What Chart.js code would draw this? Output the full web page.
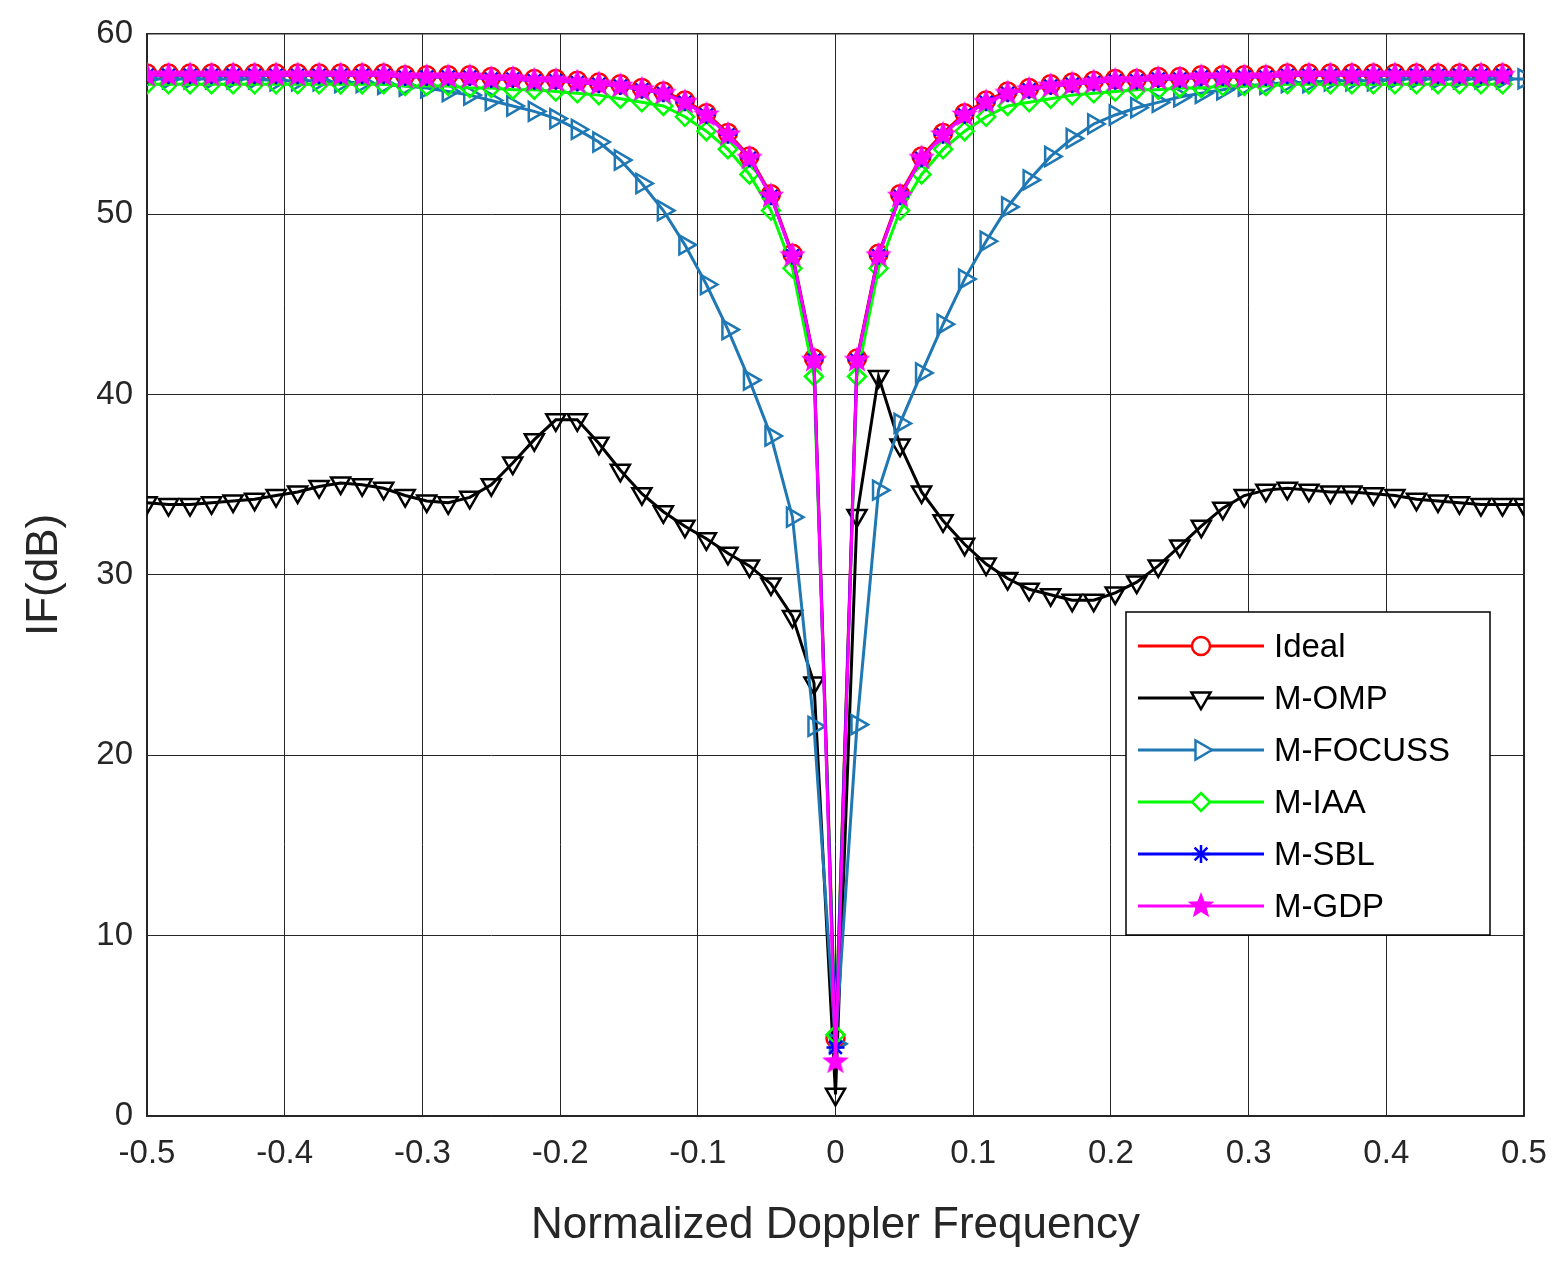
<!DOCTYPE html>
<html><head><meta charset="utf-8">
<script src="https://cdn.jsdelivr.net/npm/chart.js@4/dist/chart.umd.min.js"></script>
<style>html,body{margin:0;padding:0;background:#fff}#w{width:1566px;height:1264px}</style>
</head><body><div id="w"><canvas id="c"></canvas></div>
<script>
const xs = [];
for (let i = 0; i <= 64; i++) xs.push(-0.5 + i / 64);
const ideal = [57.8,57.8,57.8,57.8,57.8,57.8,57.8,57.8,57.8,57.8,57.8,57.8,57.7,57.7,57.7,57.7,57.6,57.6,57.5,57.5,57.4,57.3,57.2,57.0,56.8,56.3,55.6,54.5,53.2,51.1,47.8,42.0,4.3,
 42.0,47.8,51.1,53.2,54.5,55.6,56.3,56.8,57.0,57.2,57.3,57.4,57.5,57.5,57.6,57.6,57.7,57.7,57.7,57.7,57.8,57.8,57.8,57.8,57.8,57.8,57.8,57.8,57.8,57.8,57.8];
const omp = [34.0,33.9,33.9,34.0,34.1,34.2,34.4,34.6,34.9,35.1,35.0,34.8,34.4,34.1,34.0,34.3,35.0,36.2,37.5,38.6,38.6,37.3,35.8,34.5,33.5,32.7,32.0,31.2,30.5,29.5,27.7,24.0,1.2,
 33.3,41.0,37.2,34.6,33.0,31.7,30.6,29.8,29.2,28.9,28.6,28.6,29.0,29.6,30.5,31.6,32.7,33.7,34.4,34.7,34.8,34.7,34.6,34.6,34.5,34.4,34.2,34.1,34.0,33.9,33.9,33.9];
const focuss = [57.5,57.5,57.5,57.5,57.5,57.5,57.4,57.4,57.4,57.3,57.3,57.2,57.1,57.0,56.8,56.6,56.3,56.0,55.7,55.3,54.7,54.0,53.0,51.7,50.2,48.3,46.1,43.6,40.8,37.7,33.2,21.6,4.0,
 21.7,34.7,38.4,41.2,43.9,46.4,48.5,50.4,51.9,53.2,54.2,55.0,55.5,55.9,56.2,56.5,56.7,56.9,57.1,57.2,57.3,57.3,57.4,57.4,57.4,57.5,57.5,57.5,57.5,57.5,57.5,57.5];
const iaa = [57.2,57.2,57.2,57.2,57.2,57.2,57.2,57.2,57.2,57.2,57.2,57.2,57.1,57.1,57.1,57.0,57.0,56.9,56.9,56.8,56.7,56.6,56.4,56.2,56.0,55.4,54.6,53.6,52.2,50.2,47.0,41.0,4.5,
 41.0,47.0,50.2,52.2,53.6,54.6,55.4,56.0,56.2,56.4,56.6,56.7,56.8,56.9,56.9,57.0,57.0,57.1,57.1,57.1,57.2,57.2,57.2,57.2,57.2,57.2,57.2,57.2,57.2,57.2,57.2];
const sbl = [57.7,57.7,57.7,57.7,57.7,57.7,57.7,57.7,57.7,57.7,57.7,57.7,57.6,57.6,57.6,57.6,57.5,57.5,57.4,57.4,57.3,57.2,57.1,56.9,56.7,56.2,55.5,54.4,53.1,51.0,47.7,41.9,3.8,
 41.9,47.7,51.0,53.1,54.4,55.5,56.2,56.7,56.9,57.1,57.2,57.3,57.4,57.4,57.5,57.5,57.6,57.6,57.6,57.6,57.7,57.7,57.7,57.7,57.7,57.7,57.7,57.7,57.7,57.7,57.7];
const gdp = [57.7,57.7,57.7,57.7,57.7,57.7,57.7,57.7,57.7,57.7,57.7,57.7,57.6,57.6,57.6,57.6,57.5,57.5,57.4,57.4,57.3,57.2,57.1,56.9,56.7,56.2,55.5,54.4,53.1,51.0,47.7,41.9,3.0,
 41.9,47.7,51.0,53.1,54.4,55.5,56.2,56.7,56.9,57.1,57.2,57.3,57.4,57.4,57.5,57.5,57.6,57.6,57.6,57.6,57.7,57.7,57.7,57.7,57.7,57.7,57.7,57.7,57.7,57.7,57.7];
const names = ['Ideal','M-OMP','M-FOCUSS','M-IAA','M-SBL','M-GDP'];
const colors = ['#ff0000','#000000','#1f77b4','#00ff00','#0000ff','#ff00ff'];
const xTicks = ['-0.5','-0.4','-0.3','-0.2','-0.1','0','0.1','0.2','0.3','0.4','0.5'];

function starImg(r){
  const c=document.createElement('canvas'); c.width=c.height=2*r+4;
  const g=c.getContext('2d'); g.beginPath();
  for(let k=0;k<10;k++){const a=-Math.PI/2+k*Math.PI/5; const rr=k%2?r*0.42:r;
    g.lineTo(r+2+rr*Math.cos(a), r+2+rr*Math.sin(a));}
  g.closePath(); g.fillStyle='#ff00ff'; g.fill(); return c;
}
const star = starImg(14);
const styles = [
  {pointStyle:'circle', radius:9, rotation:0},
  {pointStyle:'triangle', radius:11, rotation:180},
  {pointStyle:'triangle', radius:11, rotation:90},
  {pointStyle:'rectRot', radius:9, rotation:0},
  {pointStyle:'star', radius:9, rotation:0},
  {pointStyle:star, radius:14, rotation:0}
];
const series = [ideal, omp, focuss, iaa, sbl, gdp];
const datasets = series.map((s,i)=>({
  label:names[i], data:s.map((v,j)=>({x:xs[j], y:v})),
  borderColor:colors[i], backgroundColor:'rgba(0,0,0,0)', borderWidth:3,
  pointStyle:styles[i].pointStyle, pointRadius:styles[i].radius, pointRotation:styles[i].rotation,
  pointBorderWidth:2.5, pointBorderColor:colors[i], pointBackgroundColor:'rgba(0,0,0,0)',
  order: 5-i, tension:0
}));

const legendPlugin = {
  id:'lg',
  afterDraw(ch){
    const g=ch.ctx; const x0=1126,y0=612,w=364,h=323;
    g.save(); g.fillStyle='#fff'; g.fillRect(x0,y0,w,h);
    g.strokeStyle='#000'; g.lineWidth=1.5; g.strokeRect(x0,y0,w,h);
    g.font='33px "Liberation Sans", Arial, sans-serif'; g.textBaseline='middle';
    for(let i=0;i<6;i++){
      const y=y0+34+i*52;
      g.strokeStyle=colors[i]; g.lineWidth=3; g.beginPath(); g.moveTo(x0+12,y); g.lineTo(x0+138,y); g.stroke();
      if(styles[i].pointStyle===star){ g.drawImage(star,x0+75-16,y-16); }
      else { g.lineWidth=2.5; g.fillStyle='#ffffff';
        Chart.helpers.drawPoint(g,{pointStyle:styles[i].pointStyle,radius:styles[i].radius,rotation:styles[i].rotation,borderWidth:2.5},x0+75,y); }
      g.fillStyle='#000'; g.fillText(names[i], x0+148, y+2);
    }
    g.restore();
  }
};

new Chart(document.getElementById('c'),{
  type:'line',
  data:{datasets},
  options:{
    responsive:true, maintainAspectRatio:false, animation:false,
    layout:{padding:{top:27,right:42,left:14,bottom:8}},
    plugins:{legend:{display:false}, tooltip:{enabled:false}},
    scales:{
      x:{type:'linear', min:-0.5, max:0.5,
        ticks:{stepSize:0.1, color:'#262626', padding:18, font:{size:33,family:'"Liberation Sans", Arial'}, maxRotation:0,
          callback:(v,i)=>xTicks[i]},
        grid:{color:'#262626', lineWidth:1, tickLength:0},
        border:{color:'#262626', width:1.5},
        title:{display:true, text:'Normalized Doppler Frequency', color:'#262626', padding:{top:18}, font:{size:44,family:'"Liberation Sans", Arial'}},
        afterFit(s){s.height=140;}
      },
      y:{min:0, max:60,
        ticks:{stepSize:10, color:'#262626', padding:14, font:{size:33,family:'"Liberation Sans", Arial'}},
        grid:{color:'#262626', lineWidth:1, tickLength:0},
        border:{color:'#262626', width:1.5},
        title:{display:true, text:'IF(dB)', color:'#262626', font:{size:44,family:'"Liberation Sans", Arial'}},
        afterFit(s){s.width=133;}
      },
      x2:{position:'top', type:'linear', min:-0.5,max:0.5, ticks:{display:false}, grid:{display:false}, border:{color:'#262626',width:1.5}, afterFit(s){s.height=0;}},
      y2:{position:'right', min:0,max:60, ticks:{display:false}, grid:{display:false}, border:{color:'#262626',width:1.5}, afterFit(s){s.width=0;}}
    }
  },
  plugins:[legendPlugin]
});
</script></body></html>
